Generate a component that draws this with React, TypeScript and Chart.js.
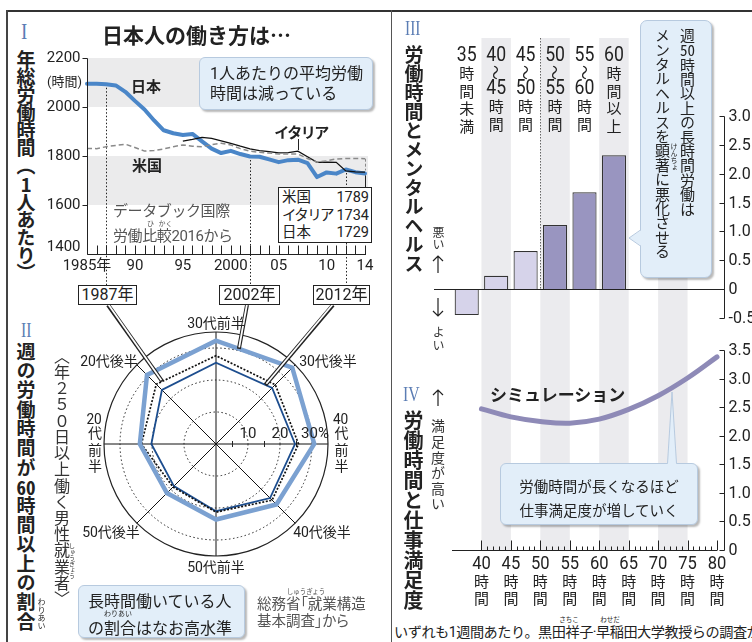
import React, { useEffect, useRef } from 'react';
import { Chart, registerables } from 'chart.js';

Chart.register(...registerables);

const JP = '"Noto Sans CJK JP", sans-serif';
const MIX = 'Roboto, "Noto Sans CJK JP", sans-serif';
const SERIF = '"Liberation Serif", "DejaVu Serif", serif';
const NUMERAL = '#5b7db4';
const BOX_BG = '#e2eef9';
const BOX_BORDER = '#b7cadf';

// ---------- Panel I : annual working hours ----------
const years = [1985, 1986, 1987, 1988, 1989, 1990, 1991, 1992, 1993, 1994, 1995, 1996, 1997, 1998, 1999, 2000, 2001, 2002, 2003, 2004, 2005, 2006, 2007, 2008, 2009, 2010, 2011, 2012, 2013, 2014];
const japanHours = [2095, 2095, 2093, 2088, 2062, 2025, 1990, 1945, 1905, 1893, 1886, 1890, 1860, 1830, 1812, 1821, 1808, 1798, 1797, 1786, 1775, 1783, 1785, 1771, 1714, 1733, 1728, 1745, 1734, 1729];
const usHours = [1831, 1830, 1838, 1843, 1848, 1835, 1820, 1822, 1829, 1838, 1845, 1840, 1838, 1846, 1852, 1845, 1830, 1820, 1815, 1812, 1808, 1808, 1808, 1790, 1775, 1780, 1788, 1790, 1790, 1789];
const italyYears = [1995, 1996, 1997, 1998, 1999, 2000, 2001, 2002, 2003, 2004, 2005, 2006, 2007, 2008, 2009, 2010, 2011, 2012, 2013, 2014];
const italyHours = [1861, 1868, 1876, 1872, 1862, 1852, 1840, 1829, 1822, 1818, 1813, 1814, 1820, 1797, 1774, 1775, 1774, 1739, 1735, 1734];
const hoursTicks = [1400, 1600, 1800, 2000, 2200];
const hoursTickLabels = ['1400', '1600', '1800', '2000', '2200'];
const hourBands = [[1600, 1800], [2000, 2200]];
const yearLabelYears = [1985, 1990, 1995, 2000, 2005, 2010, 2014];
const yearLabelTexts = ['1985年', '90', '95', '2000', '05', '10', '14'];
const markerYears = [1987, 2002, 2012];
const latestNames = ['米国', 'イタリア', '日本'];
const latestValues = [1789, 1734, 1729];
const italyLabelYear = 2007;

// ---------- Panel II : share working 60h+ ----------
const ageGroups = ['20代前半', '20代後半', '30代前半', '30代後半', '40代前半', '40代後半', '50代前半', '50代後半'];
const share1987 = [23.3, 26.4, 27.6, 26.2, 25.8, 24.8, 21.3, 19.0];
const share2002 = [23.8, 30.5, 32.3, 33.7, 30.7, 26.7, 23.6, 21.7];
const share2012 = [20.2, 23.9, 25.4, 24.8, 24.7, 23.9, 21.0, 18.6];
const shareTicks = [10, 20, 30];
const shareTickLabels = ['10', '20', '30%'];
const shareMinorTicks = [5, 15, 25];
const shareMax = 35;

// ---------- Panel III : mental health ----------
const mentalCategories = ['35時間未満', '40〜45時間', '45〜50時間', '50〜55時間', '55〜60時間', '60時間以上'];
const mentalBinStart = [35, 40, 45, 50, 55, 60];
const mentalValues = [-0.45, 0.23, 0.66, 1.11, 1.68, 2.32];
const mentalSignificant = [false, false, false, true, true, true];
const mentalTicks = [-0.5, 0, 0.5, 1, 1.5, 2, 2.5, 3];
const mentalTickLabels = ['-0.5', '0', '0.5', '1.0', '1.5', '2.0', '2.5', '3.0'];
const significanceThreshold = 50;

// ---------- Panel IV : job satisfaction ----------
const satisfactionHours = [40, 45, 50, 55, 60, 65, 70, 75, 80];
const satisfactionValues = [2.47, 2.33, 2.25, 2.22, 2.29, 2.46, 2.70, 3.01, 3.38];
const satisfactionTicks = [0, 0.5, 1, 1.5, 2, 2.5, 3, 3.5];
const satisfactionTickLabels = ['0', '0.5', '1.0', '1.5', '2.0', '2.5', '3.0', '3.5'];
const hourLabelValues = [40, 45, 50, 55, 60, 65, 70, 75, 80];
const hourLabelTexts = ['40時間', '45時間', '50時間', '55時間', '60時間', '65時間', '70時間', '75時間', '80時間'];
const shadedBins = [[40, 45], [50, 55], [60, 65], [70, 75]];
const hourRange = [35, 80];

// ---------- helpers ----------
function drawStack(ctx: any, text: string, cx: number, top: number, o: any) {
  const tokens = text.match(/\d+|./g) || [];
  let y = top;
  ctx.textAlign = 'center';
  ctx.textBaseline = 'middle';
  tokens.forEach((tok) => {
    if (/\d/.test(tok)) {
      const h = o.digitH;
      ctx.save();
      ctx.font = o.digitFont;
      ctx.translate(cx, y + h / 2);
      ctx.scale(o.digitScale, 1);
      ctx.fillText(tok, 0, 0);
      ctx.restore();
      y += h;
    } else if (tok === '〜') {
      const h = o.waveH;
      ctx.save();
      ctx.font = o.cjkFont;
      ctx.translate(cx, y + h / 2);
      ctx.rotate(Math.PI / 2);
      ctx.fillText(tok, 0, 0);
      ctx.restore();
      y += h;
    } else {
      const h = o.cjkH;
      ctx.font = o.cjkFont;
      ctx.fillText(tok, cx, y + h / 2);
      y += h;
    }
  });
}

const lineDeco = {
  id: 'lineDeco',
  beforeDatasetsDraw(chart: any) {
    const { ctx, chartArea: ca } = chart;
    const x = chart.scales.x, y = chart.scales.y;
    ctx.save();
    ctx.fillStyle = '#ebebec';
    hourBands.forEach(([lo, hi]) => {
      const t = y.getPixelForValue(hi), b = y.getPixelForValue(lo);
      ctx.fillRect(ca.left, t, ca.right + 3 - ca.left, b - t);
    });
    ctx.strokeStyle = '#222';
    ctx.lineWidth = 1;
    ctx.setLineDash([1.5, 2]);
    markerYears.forEach((yr) => {
      const px = Math.round(x.getPixelForValue(yr)) + 0.5;
      const v = japanHours[years.indexOf(yr)];
      ctx.beginPath();
      ctx.moveTo(px, y.getPixelForValue(v));
      ctx.lineTo(px, chart.height - 5);
      ctx.stroke();
    });
    ctx.restore();
  },
  afterDatasetsDraw(chart: any) {
    const { ctx, chartArea: ca } = chart;
    const x = chart.scales.x, y = chart.scales.y;
    ctx.save();
    ctx.strokeStyle = '#222';
    ctx.lineWidth = 1;
    const base = Math.round(y.getPixelForValue(y.min)) + 0.5;
    const ax = Math.round(ca.left) + 0.5;
    ctx.beginPath();
    ctx.moveTo(ax, Math.round(y.getPixelForValue(y.max)) + 0.5);
    ctx.lineTo(ax, base);
    ctx.stroke();
    hoursTicks.forEach((v) => {
      if (v === y.min) return;
      const py = Math.round(y.getPixelForValue(v)) + 0.5;
      ctx.beginPath();
      ctx.moveTo(ax - 5, py);
      ctx.lineTo(ax, py);
      ctx.stroke();
    });
    ctx.beginPath();
    ctx.moveTo(ax, base);
    ctx.lineTo(ca.right + 1, base);
    ctx.stroke();
    years.forEach((yr) => {
      const px = Math.round(x.getPixelForValue(yr)) + 0.5;
      ctx.beginPath();
      ctx.moveTo(px, base);
      ctx.lineTo(px, base - 9);
      ctx.stroke();
    });
    ctx.fillStyle = '#222';
    ctx.font = '15px Roboto';
    ctx.textAlign = 'right';
    ctx.textBaseline = 'middle';
    hoursTicks.forEach((v, i) => {
      ctx.fillText(hoursTickLabels[i], ax - 7, y.getPixelForValue(v) - (v === y.min ? 7 : 0));
    });
    ctx.textAlign = 'center';
    ctx.font = '15px ' + MIX;
    yearLabelYears.forEach((yr, i) => {
      ctx.fillText(yearLabelTexts[i], x.getPixelForValue(yr), base + 12);
    });
    const last = years.length - 1;
    const lx = Math.round(x.getPixelForValue(years[last])) + 0.5;
    ctx.setLineDash([3, 2]);
    ctx.strokeStyle = '#888';
    ctx.beginPath();
    ctx.moveTo(lx, y.getPixelForValue(usHours[last]));
    ctx.lineTo(lx, y.getPixelForValue(japanHours[last]) - 3);
    ctx.stroke();
    ctx.setLineDash([]);
    ctx.strokeStyle = '#222';
    ctx.beginPath();
    ctx.moveTo(lx, y.getPixelForValue(japanHours[last]) + 2);
    ctx.lineTo(lx, 147);
    ctx.stroke();
    const ix = Math.round(x.getPixelForValue(italyLabelYear)) + 0.5;
    ctx.beginPath();
    ctx.moveTo(ix, 99);
    ctx.lineTo(ix, y.getPixelForValue(italyHours[italyYears.indexOf(italyLabelYear)]) - 1);
    ctx.stroke();
    ctx.restore();
  },
};

const RADAR_LEFT = 60, RADAR_TOP = 280;
const leaderSpecs = [
  { values: share1987, from: [108, 305], a: 1, b: 2, t: 0.1 },
  { values: share2002, from: [247, 305], a: 2, b: 3, t: 0.3 },
  { values: share2012, from: [333, 305], a: 2, b: 3, t: 0.88 },
];

const radarDeco = {
  id: 'radarDeco',
  beforeDatasetsDraw(chart: any) {
    const r = chart.scales.r;
    const ctx = chart.ctx;
    ctx.save();
    ctx.strokeStyle = '#222';
    ctx.lineWidth = 1;
    ctx.setLineDash([1.5, 2.5]);
    shareTicks.forEach((v) => {
      ctx.beginPath();
      ctx.arc(r.xCenter, r.yCenter, r.getDistanceFromCenterForValue(v), 0, Math.PI * 2);
      ctx.stroke();
    });
    ctx.setLineDash([]);
    ctx.lineWidth = 1.2;
    ctx.beginPath();
    ctx.arc(r.xCenter, r.yCenter, r.getDistanceFromCenterForValue(r.max), 0, Math.PI * 2);
    ctx.stroke();
    const idx = ageGroups.indexOf('40代前半');
    ctx.lineWidth = 1;
    shareMinorTicks.forEach((v) => {
      const p = r.getPointPositionForValue(idx, v);
      const px = Math.round(p.x) + 0.5;
      ctx.beginPath();
      ctx.moveTo(px, p.y - 3);
      ctx.lineTo(px, p.y + 3);
      ctx.stroke();
    });
    ctx.restore();
  },
  afterDatasetsDraw(chart: any) {
    const r = chart.scales.r;
    const ctx = chart.ctx;
    ctx.save();
    const idx = ageGroups.indexOf('40代前半');
    ctx.fillStyle = '#222';
    ctx.font = '15px Roboto';
    ctx.textAlign = 'center';
    ctx.textBaseline = 'middle';
    shareTicks.forEach((v, i) => {
      const p = r.getPointPositionForValue(idx, v);
      ctx.fillText(shareTickLabels[i], p.x + (i === 2 ? 3 : 0), p.y - 10);
    });
    leaderSpecs.forEach((s) => {
      const pa = r.getPointPositionForValue(s.a, s.values[s.a]);
      const pb = r.getPointPositionForValue(s.b, s.values[s.b]);
      const ex = pa.x + (pb.x - pa.x) * s.t;
      const ey = pa.y + (pb.y - pa.y) * s.t;
      const sx = s.from[0] - RADAR_LEFT, sy = s.from[1] - RADAR_TOP;
      const len = Math.hypot(ex - sx, ey - sy);
      const ux = (ex - sx) / len, uy = (ey - sy) / len;
      ctx.lineCap = 'butt';
      ctx.strokeStyle = '#222';
      ctx.lineWidth = 4;
      ctx.beginPath();
      ctx.moveTo(sx, sy);
      ctx.lineTo(ex, ey);
      ctx.stroke();
      ctx.strokeStyle = '#fff';
      ctx.lineWidth = 1.8;
      ctx.beginPath();
      ctx.moveTo(sx, sy - 1);
      ctx.lineTo(ex - ux * 1.5, ey - uy * 1.5);
      ctx.stroke();
    });
    ctx.restore();
  },
};

function drawBands(chart: any, top: number, bottom: number) {
  const { ctx } = chart;
  const x = chart.scales.x;
  ctx.save();
  ctx.fillStyle = '#ebebee';
  shadedBins.forEach(([a, b]) => {
    const l = x.getPixelForValue(a), r = x.getPixelForValue(b);
    ctx.fillRect(l, top, r - l, bottom - top);
  });
  ctx.restore();
}

function drawRightAxis(chart: any, ticks: number[], labels: string[]) {
  const { ctx, chartArea: ca } = chart;
  const y = chart.scales.y;
  const ax = Math.round(ca.right + 7) + 0.5;
  ctx.save();
  ctx.strokeStyle = '#222';
  ctx.lineWidth = 1;
  ctx.beginPath();
  ctx.moveTo(ax, Math.round(y.getPixelForValue(y.max)) + 0.5);
  ctx.lineTo(ax, Math.round(y.getPixelForValue(y.min)) + 0.5);
  ctx.stroke();
  ctx.fillStyle = '#222';
  ctx.font = '16px Roboto';
  ctx.textAlign = 'left';
  ctx.textBaseline = 'middle';
  ticks.forEach((v, i) => {
    const py = Math.round(y.getPixelForValue(v)) + 0.5;
    ctx.beginPath();
    ctx.moveTo(ax - 5, py);
    ctx.lineTo(ax, py);
    ctx.stroke();
    ctx.fillText(labels[i], ax + 4, py);
  });
  ctx.restore();
}

const mentalDeco = {
  id: 'mentalDeco',
  beforeDatasetsDraw(chart: any) {
    const { ctx } = chart;
    const x = chart.scales.x, y = chart.scales.y;
    drawBands(chart, 8, chart.height);
    ctx.save();
    const dx = Math.round(x.getPixelForValue(significanceThreshold)) + 0.5;
    ctx.strokeStyle = '#666';
    ctx.lineWidth = 1;
    ctx.setLineDash([1.5, 1.5]);
    ctx.beginPath();
    ctx.moveTo(dx, 8);
    ctx.lineTo(dx, y.getPixelForValue(0));
    ctx.stroke();
    ctx.restore();
  },
  afterDatasetsDraw(chart: any) {
    const { ctx, chartArea: ca } = chart;
    const x = chart.scales.x, y = chart.scales.y;
    ctx.save();
    ctx.strokeStyle = '#222';
    ctx.lineWidth = 1.2;
    const zy = Math.round(y.getPixelForValue(0)) + 0.5;
    ctx.beginPath();
    ctx.moveTo(ca.left - 18, zy);
    ctx.lineTo(ca.right + 7, zy);
    ctx.stroke();
    ctx.fillStyle = '#222';
    mentalCategories.forEach((c, i) => {
      drawStack(ctx, c, x.getPixelForValue(mentalBinStart[i] + 2.5), 17, {
        digitFont: '21px Roboto', digitScale: 0.84, digitH: 18,
        cjkFont: '15px ' + JP, cjkH: 17.5, waveH: 15,
      });
    });
    ctx.restore();
    drawRightAxis(chart, mentalTicks, mentalTickLabels);
  },
};

const satDeco = {
  id: 'satDeco',
  beforeDatasetsDraw(chart: any) {
    const y = chart.scales.y;
    drawBands(chart, 0, y.getPixelForValue(0));
  },
  afterDatasetsDraw(chart: any) {
    const { ctx, chartArea: ca } = chart;
    const x = chart.scales.x, y = chart.scales.y;
    ctx.save();
    ctx.strokeStyle = '#222';
    ctx.lineWidth = 1;
    const by = Math.round(y.getPixelForValue(0)) + 0.5;
    ctx.beginPath();
    ctx.moveTo(ca.left, by);
    ctx.lineTo(ca.right, by);
    ctx.stroke();
    for (let h = hourLabelValues[0]; h <= hourLabelValues[hourLabelValues.length - 1]; h += 1) {
      const px = Math.round(x.getPixelForValue(h)) + 0.5;
      const len = h % 5 === 0 ? 10 : 4;
      ctx.beginPath();
      ctx.moveTo(px, by);
      ctx.lineTo(px, by - len);
      ctx.stroke();
    }
    ctx.fillStyle = '#222';
    hourLabelValues.forEach((h, i) => {
      drawStack(ctx, hourLabelTexts[i], x.getPixelForValue(h), 223, {
        digitFont: '18px Roboto', digitScale: 0.92, digitH: 18,
        cjkFont: '15px ' + JP, cjkH: 17, waveH: 15,
      });
    });
    ctx.restore();
    drawRightAxis(chart, satisfactionTicks, satisfactionTickLabels);
  },
};

const common = {
  responsive: false,
  maintainAspectRatio: false,
  animation: false,
  devicePixelRatio: 1,
  events: [],
  plugins: { legend: { display: false }, tooltip: { enabled: false } },
};

// ---------- small DOM helpers ----------
const abs = (s: any) => ({ position: 'absolute', whiteSpace: 'nowrap', ...s });
const Tcy = ({ children }: any) => <span style={{ textCombineUpright: 'all' } as any}>{children}</span>;

function V({ cx, top, size, lh, ls = 0, bold = false, color = '#222', children, family = JP }: any) {
  return (
    <div style={abs({ left: cx - lh / 2, top, writingMode: 'vertical-rl', fontSize: size, lineHeight: lh + 'px', letterSpacing: ls, fontWeight: bold ? 700 : 400, color, fontFamily: family })}>
      {children}
    </div>
  );
}

function C({ cx, cy, size, children, bold = false, color = '#222', family = MIX, ls = 0 }: any) {
  return (
    <div style={abs({ left: cx, top: cy, transform: 'translate(-50%, -50%)', fontSize: size, lineHeight: '1', fontWeight: bold ? 700 : 400, color, fontFamily: family, letterSpacing: ls })}>
      {children}
    </div>
  );
}

function YearBox({ left, width, text }: any) {
  return (
    <div style={abs({ left, top: 285, width, height: 20, boxSizing: 'border-box', border: '1px solid #222', background: '#fff', textAlign: 'center', fontSize: 16, lineHeight: '18px', fontFamily: MIX, color: '#222' })}>{text}</div>
  );
}

function Arrow({ cx, top, h, up }: any) {
  const w = 12;
  const d = up
    ? `M${w / 2},1 L${w / 2},${h} M1,6 L${w / 2},1 L${w - 1},6`
    : `M${w / 2},0 L${w / 2},${h - 1} M1,${h - 6} L${w / 2},${h - 1} L${w - 1},${h - 6}`;
  return (
    <svg style={{ position: 'absolute', left: cx - w / 2, top } as any} width={w} height={h + 1}>
      <path d={d} stroke="#222" strokeWidth={1.2} fill="none" />
    </svg>
  );
}

export default function App() {
  const lineRef = useRef<HTMLCanvasElement>(null);
  const radarRef = useRef<HTMLCanvasElement>(null);
  const mentalRef = useRef<HTMLCanvasElement>(null);
  const satRef = useRef<HTMLCanvasElement>(null);

  useEffect(() => {
    const charts: any[] = [];
    charts.push(new Chart(lineRef.current as any, {
      type: 'line',
      data: {
        datasets: [
          { label: '米国', data: years.map((yr, i) => ({ x: yr, y: usHours[i] })), borderColor: '#8a8a8a', borderWidth: 1.5, borderDash: [5, 3], pointRadius: 0, tension: 0, clip: 6 } as any,
          { label: 'イタリア', data: italyYears.map((yr, i) => ({ x: yr, y: italyHours[i] })), borderColor: '#111', borderWidth: 1.3, pointRadius: 0, tension: 0, clip: 6 },
          { label: '日本', data: years.map((yr, i) => ({ x: yr, y: japanHours[i] })), borderColor: '#4a86c8', borderWidth: 4, pointRadius: 0, tension: 0, borderJoinStyle: 'round', borderCapStyle: 'round', clip: 6 },
        ],
      },
      options: {
        ...common,
        layout: { padding: { left: 47, right: 15, top: 18, bottom: 36 } },
        scales: {
          x: { type: 'linear', min: years[0], max: years[years.length - 1], display: false },
          y: { min: hoursTicks[0], max: hoursTicks[hoursTicks.length - 1], display: false },
        },
      } as any,
      plugins: [lineDeco],
    }));

    charts.push(new Chart(radarRef.current as any, {
      type: 'radar',
      data: {
        labels: ageGroups,
        datasets: [
          { label: '2002年', data: share2002, borderColor: '#7ba1d1', borderWidth: 4.5, fill: false, pointRadius: 0, borderJoinStyle: 'miter' },
          { label: '1987年', data: share1987, borderColor: '#111', borderWidth: 1.7, borderDash: [2, 1.6], fill: false, pointRadius: 0 },
          { label: '2012年', data: share2012, borderColor: '#1c4d8e', borderWidth: 1.8, fill: false, pointRadius: 0 },
        ],
      } as any,
      options: {
        ...common,
        layout: { padding: { left: 44, right: 44, top: 52, bottom: 24 } },
        elements: { line: { tension: 0 } },
        scales: {
          r: {
            min: 0, max: shareMax, startAngle: 270,
            ticks: { display: false },
            pointLabels: { display: false },
            grid: { display: false },
            angleLines: { display: true, color: '#111', lineWidth: 1 },
          },
        },
      } as any,
      plugins: [radarDeco],
    }));

    charts.push(new Chart(mentalRef.current as any, {
      type: 'bar',
      data: {
        datasets: [{
          data: mentalBinStart.map((s, i) => ({ x: s + 2.5, y: mentalValues[i] })),
          backgroundColor: mentalSignificant.map((s) => (s ? '#9995c0' : '#d6d3ea')),
          borderColor: '#333',
          borderWidth: 1.2,
          barPercentage: 0.82,
          categoryPercentage: 1,
        }],
      } as any,
      options: {
        ...common,
        layout: { padding: { left: 60, right: 35, top: 86, bottom: 14 } },
        scales: {
          x: { type: 'linear', min: hourRange[0], max: hourRange[1], display: false, offset: false, ticks: { stepSize: 5 } },
          y: { min: mentalTicks[0], max: mentalTicks[mentalTicks.length - 1], display: false },
        },
      } as any,
      plugins: [mentalDeco],
    }));

    charts.push(new Chart(satRef.current as any, {
      type: 'line',
      data: {
        datasets: [{
          data: satisfactionHours.map((h, i) => ({ x: h, y: satisfactionValues[i] })),
          borderColor: '#8e8ab7', borderWidth: 5, pointRadius: 0, tension: 0.4, borderCapStyle: 'round', clip: 8,
        }],
      } as any,
      options: {
        ...common,
        layout: { padding: { left: 60, right: 35, top: 18, bottom: 62 } },
        scales: {
          x: { type: 'linear', min: hourRange[0], max: hourRange[1], display: false },
          y: { min: satisfactionTicks[0], max: satisfactionTicks[satisfactionTicks.length - 1], display: false },
        },
      } as any,
      plugins: [satDeco],
    }));

    return () => charts.forEach((c) => c.destroy());
  }, []);

  const canvasStyle = (l: number, t: number, w: number, h: number) => ({ position: 'absolute', left: l, top: t, width: w, height: h } as any);

  return (
    <div style={{ position: 'absolute', left: 0, top: 0, width: 752, height: 642, overflow: 'hidden', background: '#fff', fontFamily: JP, color: '#222' } as any}>
      <canvas ref={lineRef} width={340} height={250} style={canvasStyle(40, 40, 340, 250)} />
      <canvas ref={radarRef} width={312} height={300} style={canvasStyle(RADAR_LEFT, RADAR_TOP, 312, 300)} />
      <canvas ref={mentalRef} width={360} height={302} style={canvasStyle(392, 30, 360, 302)} />
      <canvas ref={satRef} width={360} height={280} style={canvasStyle(392, 332, 360, 280)} />

      {/* frame */}
      <div style={abs({ left: 6, top: 10, width: 746, height: 2, background: '#333' })} />
      <div style={abs({ left: 6, top: 10, width: 1.5, height: 632, background: '#444' })} />
      <div style={abs({ left: 391, top: 10, width: 1, height: 632, background: '#555' })} />

      {/* Panel I */}
      <div style={abs({ left: 21, top: 19, fontFamily: SERIF, fontSize: 24, lineHeight: '24px', color: NUMERAL, transform: 'scaleX(0.8)', transformOrigin: 'left' })}>I</div>
      <div style={abs({ left: 102, top: 21, fontSize: 21, lineHeight: '27px', fontWeight: 700 })}>日本人の働き方は…</div>
      <V cx={25.5} top={50} size={19} lh={20} ls={-1.3} bold>年総労働時間（<Tcy>1</Tcy>人あたり）</V>
      <div style={abs({ left: 47, top: 75, fontSize: 13, lineHeight: '14px', fontFamily: MIX })}>(時間)</div>
      <C cx={146} cy={85} size={15} bold family={JP}>日本</C>
      <C cx={147} cy={164} size={15} bold family={JP}>米国</C>
      <C cx={301} cy={131} size={15} bold family={JP} ls={-1.5}>イタリア</C>
      <div style={abs({ left: 199, top: 57, width: 174, height: 53, boxSizing: 'border-box', background: BOX_BG, border: '1px solid ' + BOX_BORDER, borderRadius: 6, boxShadow: '2px 2px 2px rgba(0,0,0,0.28)', paddingLeft: 10, paddingTop: 6, fontSize: 16, lineHeight: '20px', fontFamily: MIX })}>
        1人あたりの平均労働<br />時間は減っている
      </div>
      <div style={abs({ left: 113, top: 203, fontSize: 15, lineHeight: '17px', color: '#555', fontFamily: MIX, letterSpacing: -0.4 })}>データブック国際</div>
      <div style={abs({ left: 113, top: 228, fontSize: 15, lineHeight: '17px', color: '#555', fontFamily: MIX, letterSpacing: -0.4 })}>労働比較2016から</div>
      <C cx={150.5} cy={223} size={7} color="#555" family={JP}>ひ</C>
      <C cx={165.5} cy={223} size={7} color="#555" family={JP}>かく</C>
      <div style={abs({ left: 278, top: 187, width: 94, height: 56, boxSizing: 'border-box', border: '1px solid #222', background: '#fff', paddingTop: 1, fontSize: 14.5, lineHeight: '17.5px', fontFamily: MIX })}>
        {latestNames.map((n, i) => (
          <div key={n} style={{ display: 'flex', justifyContent: 'space-between', padding: '0 2px 0 3px' }}>
            <span style={{ letterSpacing: n.length > 2 ? -1.6 : 0 }}>{n}</span><span>{latestValues[i]}</span>
          </div>
        ))}
      </div>

      {/* Panel II */}
      <div style={abs({ left: 21, top: 320, fontFamily: SERIF, fontSize: 21, lineHeight: '21px', color: NUMERAL, transform: 'scaleX(0.75)', transformOrigin: 'left' })}>II</div>
      <V cx={25.5} top={342} size={19} lh={20} ls={0.3} bold>週の労働時間が<Tcy>60</Tcy>時間以上の割合</V>
      <V cx={41.5} top={598} size={8} lh={9}>わりあい</V>
      <V cx={62} top={348} size={16} lh={18} ls={0.2} color="#333">〈年２５０日以上働く男性就業者〉</V>
      <V cx={72} top={543} size={6} lh={7} color="#333">しゅうぎょう</V>

      <C cx={216} cy={323} size={14}>30代前半</C>
      <C cx={328} cy={361} size={14}>30代後半</C>
      <C cx={109} cy={361} size={14}>20代後半</C>
      <V cx={340.5} top={412} size={14} lh={16} ls={2.3} family={MIX}><Tcy>40</Tcy>代前半</V>
      <V cx={94} top={412} size={14} lh={16} ls={2.3} family={MIX}><Tcy>20</Tcy>代前半</V>
      <C cx={322} cy={532} size={14}>40代後半</C>
      <C cx={111} cy={532} size={14}>50代後半</C>
      <C cx={216} cy={567} size={14}>50代前半</C>
      <YearBox left={78} width={59} text="1987年" />
      <YearBox left={219} width={61} text="2002年" />
      <YearBox left={313} width={57} text="2012年" />

      <div style={abs({ left: 78, top: 585, width: 167, height: 53, boxSizing: 'border-box', background: BOX_BG, border: '1px solid ' + BOX_BORDER, borderRadius: 6, boxShadow: '2px 2px 2px rgba(0,0,0,0.28)' })} />
      <div style={abs({ left: 88, top: 591, fontSize: 16, lineHeight: '18px' })}>長時間働いている人</div>
      <div style={abs({ left: 88, top: 618, fontSize: 16, lineHeight: '18px' })}>の割合はなお高水準</div>
      <C cx={118} cy={613} size={7} family={JP}>わりあい</C>
      <div style={abs({ left: 257, top: 594, fontSize: 14.5, lineHeight: '17px', color: '#555', fontFeatureSettings: '"palt"' })}>総務省「就業構造</div>
      <div style={abs({ left: 257, top: 611, fontSize: 14.5, lineHeight: '17px', color: '#555', fontFeatureSettings: '"palt"' })}>基本調査」から</div>
      <C cx={306} cy={591} size={6.5} color="#555" family={JP}>しゅうぎょう</C>

      {/* Panel III */}
      <div style={abs({ left: 405, top: 17, fontFamily: SERIF, fontSize: 22, lineHeight: '22px', color: NUMERAL, transform: 'scaleX(0.7)', transformOrigin: 'left' })}>III</div>
      <V cx={413.5} top={45} size={19} lh={20} bold>労働時間とメンタルヘルス</V>
      <V cx={438} top={226} size={12} lh={14} color="#333">悪い</V>
      <Arrow cx={438} top={255} h={18} up />
      <Arrow cx={438} top={298} h={19} up={false} />
      <V cx={438} top={326} size={12} lh={14} ls={1} color="#333">よい</V>

      <div style={abs({ left: 640, top: 20, width: 72, height: 258, boxSizing: 'border-box', background: BOX_BG, border: '1px solid ' + BOX_BORDER, borderRadius: 7, boxShadow: '2px 2px 2px rgba(0,0,0,0.28)' })} />
      <svg style={{ position: 'absolute', left: 627, top: 228 } as any} width={16} height={20}>
        <polygon points="2,10 14.5,2 14.5,18" fill={BOX_BG} />
        <path d="M13.5,2 L2,10 L13.5,18" stroke={BOX_BORDER} strokeWidth={1} fill="none" />
      </svg>
      <div style={abs({ left: 650, top: 28, writingMode: 'vertical-rl', fontSize: 15, lineHeight: '25px', letterSpacing: -0.6 })}>
        週<Tcy>50</Tcy>時間以上の長時間労働は<br />メンタルヘルスを顕著に悪化させる
      </div>
      <V cx={674} top={143} size={7} lh={8}>けんちょ</V>

      {/* Panel IV */}
      <div style={abs({ left: 403, top: 384, fontFamily: SERIF, fontSize: 21, lineHeight: '21px', color: NUMERAL, transform: 'scaleX(0.75)', transformOrigin: 'left' })}>IV</div>
      <V cx={413.5} top={410} size={20} lh={21} bold>労働時間と仕事満足度</V>
      <Arrow cx={438} top={389} h={17} up />
      <V cx={438} top={419} size={14} lh={16} ls={1.6} color="#333">満足度が高い</V>
      <div style={abs({ left: 490, top: 384, fontSize: 17, lineHeight: '20px', fontWeight: 700 })}>シミュレーション</div>

      <div style={abs({ left: 500, top: 463, width: 198, height: 62, boxSizing: 'border-box', background: BOX_BG, border: '1px solid ' + BOX_BORDER, borderRadius: 6, boxShadow: '2px 2px 2px rgba(0,0,0,0.28)' })} />
      <svg style={{ position: 'absolute', left: 664, top: 391 } as any} width={18} height={75}>
        <polygon points="8,1 3.5,74 12.5,74" fill={BOX_BG} />
        <path d="M3.5,72.5 L8,1 L12.5,72.5" stroke={BOX_BORDER} strokeWidth={1} fill="none" />
      </svg>
      <C cx={599} cy={486} size={14.5} family={JP}>労働時間が長くなるほど</C>
      <C cx={599} cy={510} size={14.5} family={JP}>仕事満足度が増していく</C>

      <div style={abs({ left: 394, top: 623, fontSize: 14.2, lineHeight: '18px', letterSpacing: -0.5, fontFamily: MIX })}>いずれも1週間あたり。黒田祥子·早稲田大学教授らの調査から</div>
      <C cx={569} cy={619} size={6.5} family={JP}>さちこ</C>
      <C cx={610} cy={619} size={6.5} family={JP}>わせだ</C>
    </div>
  );
}
